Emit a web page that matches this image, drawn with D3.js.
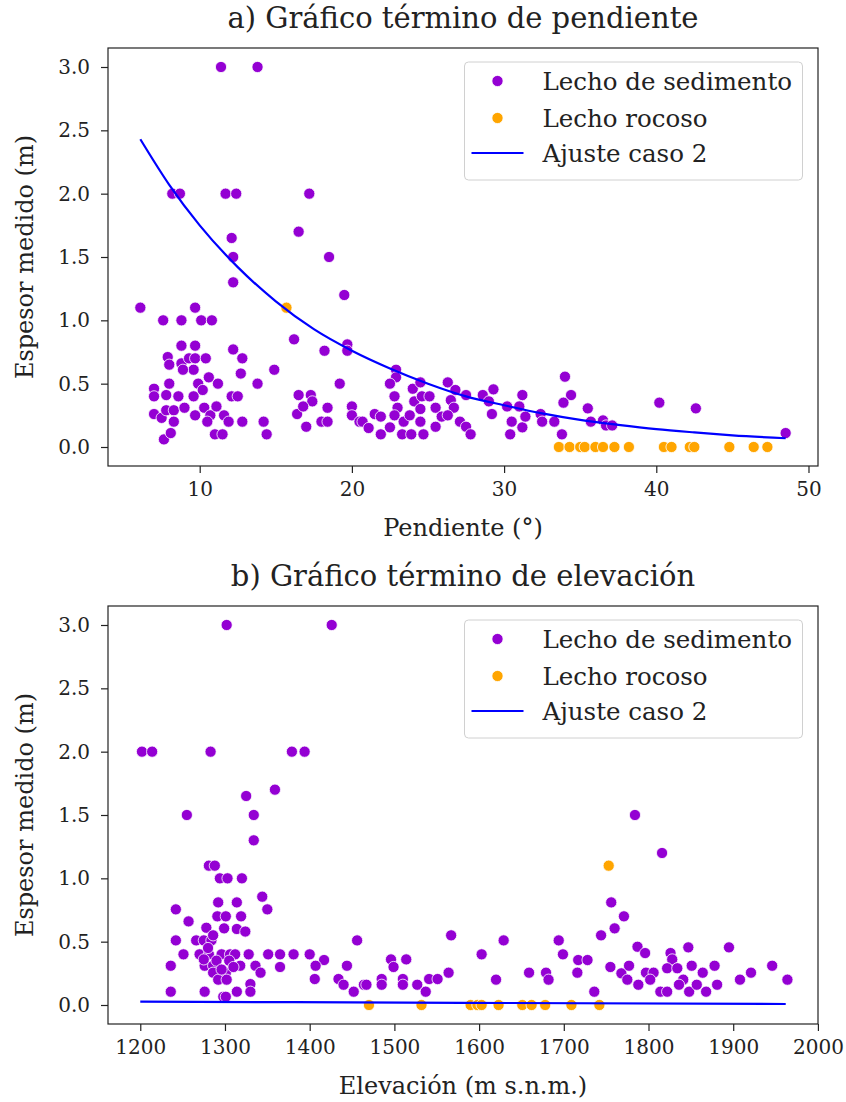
<!DOCTYPE html>
<html><head><meta charset="utf-8">
<script src="https://cdn.jsdelivr.net/npm/d3@7"></script>
<style>
html,body{margin:0;padding:0;background:#fff;}
svg text{font-family:"DejaVu Serif",serif;fill:#222;}
</style></head>
<body>
<svg id="chart" width="846" height="1102"></svg>
<script>
// ---------- DATA ----------
const yTicks = [0.0, 0.5, 1.0, 1.5, 2.0, 2.5, 3.0];
const xTicksA = [10, 20, 30, 40, 50];
const xTicksB = [1200, 1300, 1400, 1500, 1600, 1700, 1800, 1900, 2000];
const legendLabels = ["Lecho de sedimento", "Lecho rocoso", "Ajuste caso 2"];
const titles = ["a) Gráfico término de pendiente", "b) Gráfico término de elevación"];
const xLabels = ["Pendiente (°)", "Elevación (m s.n.m.)"];
const yLabel = "Espesor medido (m)";

// a) slope (deg), thickness (m)
const sedimentA = [
[11.4,3.0],[13.8,3.0],
[8.2,2.0],[8.7,2.0],[11.7,2.0],[12.4,2.0],[17.2,2.0],
[16.5,1.70],[12.1,1.65],[12.2,1.50],[18.5,1.50],
[12.2,1.30],[19.5,1.20],[6.1,1.10],
[7.6,1.0],[8.8,1.0],[9.7,1.1],[10.1,1.0],[10.8,1.0],
[16.2,0.85],[18.2,0.76],[19.7,0.81],[19.7,0.76],
[8.8,0.80],[9.7,0.80],[12.2,0.77],[12.8,0.70],
[7.9,0.71],[8.0,0.65],[8.8,0.66],[9.3,0.70],[9.7,0.70],[10.4,0.70],
[9.6,0.61],[8.9,0.61],[12.7,0.58],[14.9,0.61],[10.6,0.55],
[9.9,0.50],[11.2,0.50],[8.0,0.50],[13.8,0.50],[19.2,0.50],
[7.0,0.46],[7.0,0.40],[7.8,0.41],[8.6,0.40],[9.6,0.40],[10.2,0.45],[12.1,0.40],[12.5,0.40],
[16.5,0.41],[17.3,0.41],[17.4,0.36],
[7.0,0.26],[7.5,0.23],[7.8,0.29],[8.3,0.29],[9.0,0.31],[8.3,0.20],[9.7,0.25],[10.3,0.31],[10.7,0.25],[11.1,0.32],[11.6,0.25],[10.5,0.20],[11.9,0.20],[12.8,0.20],[14.2,0.20],
[11.0,0.10],[11.5,0.10],[14.4,0.10],[7.65,0.06],[8.1,0.11],
[16.4,0.26],[17.0,0.16],[16.8,0.32],[18.0,0.20],[18.4,0.20],[18.4,0.31],[20.0,0.32],[20.0,0.25],[20.5,0.20],
[20.7,0.20],[21.1,0.15],[21.5,0.26],[21.9,0.24],[21.9,0.10],[22.5,0.155],[22.9,0.61],[22.9,0.55],[22.5,0.50],[22.8,0.40],[23.0,0.31],[22.8,0.25],[23.3,0.10],[23.9,0.10],[23.4,0.20],[23.8,0.25],[24.0,0.46],[24.5,0.51],[24.1,0.36],[24.6,0.40],[25.1,0.40],[24.5,0.30],[24.5,0.20],[24.7,0.10],[25.5,0.31],[25.5,0.16],[25.9,0.24],[26.3,0.51],[26.8,0.45],[26.5,0.37],[26.7,0.31],[26.3,0.25],[27.1,0.20],[27.5,0.16],[27.8,0.10],[27.5,0.41],[28.6,0.41],[29.0,0.36],[29.3,0.455],[29.2,0.26],[30.2,0.32],[30.5,0.20],[30.4,0.10],[31.2,0.41],[31.0,0.32],[31.2,0.155],[31.4,0.24],[32.4,0.26],[32.5,0.20],[33.3,0.20],[33.8,0.10],[34.0,0.555],[34.4,0.41],[33.9,0.35],
[35.5,0.305],[35.7,0.20],[36.5,0.21],[36.7,0.17],[37.1,0.17],[40.2,0.35],[42.6,0.305],[48.5,0.11]
];
const rockA = [
[15.7,1.10],[33.6,0],[34.3,0],[35.0,0],[35.3,0],[36.0,0],[36.5,0],[37.25,0],[38.2,0],[40.5,0],[41.0,0],[42.2,0],[42.5,0],[44.8,0],[46.4,0],[47.3,0]
];
const fitA = [[6.1,2.43],[8,2.07],[10,1.75],[12.5,1.42],[15,1.15],[17.5,0.93],[20,0.76],[22.5,0.62],[25,0.50],[27.5,0.40],[30,0.33],[32.5,0.265],[35,0.214],[37.5,0.175],[40,0.141],[42.5,0.115],[45,0.092],[48.5,0.069]];

// b) elevation (m a.s.l.), thickness (m)
const sedimentB = [
[1302,3.0],[1426,3.0],[1202,2.0],[1214,2.0],[1283,2.0],[1379,2.0],[1394,2.0],[1359,1.70],[1325,1.65],[1255,1.50],[1334,1.50],[1334,1.30],
[1281,1.10],[1288,1.10],[1294,1.0],[1303,1.0],[1320,1.0],[1344,0.855],[1350,0.755],[1242,0.755],[1292,0.81],[1314,0.81],[1257,0.66],[1291,0.70],[1301,0.70],[1319,0.70],[1278,0.61],[1299,0.605],[1314,0.6],[1324,0.58],[1242,0.51],[1266,0.51],[1275,0.51],[1284,0.51],[1286,0.55],[1251,0.40],[1270,0.40],[1281,0.40],[1296,0.40],[1306,0.40],[1312,0.40],[1328,0.40],[1351,0.40],[1365,0.40],[1381,0.40],[1400,0.40],[1417,0.355],[1236,0.31],[1276,0.31],[1286,0.31],[1318,0.31],[1336,0.31],[1365,0.30],[1407,0.31],[1444,0.31],[1286,0.255],[1301,0.255],[1342,0.255],[1292,0.20],[1302,0.20],[1406,0.205],[1434,0.205],[1330,0.165],[1236,0.105],[1276,0.105],[1314,0.105],[1330,0.105],[1440,0.16],[1452,0.105],[1298,0.065],[1301,0.065],[1456,0.51],[1464,0.16],
[1280,0.45],[1290,0.35],[1296,0.28],[1305,0.35],[1275,0.36],[1310,0.30],
[1467,0.16],[1485,0.205],[1485,0.16],[1496,0.36],[1499,0.30],[1514,0.36],[1510,0.205],[1510,0.16],[1527,0.16],[1537,0.105],[1541,0.205],[1551,0.205],[1564,0.255],[1567,0.55],[1603,0.40],[1620,0.20],[1629,0.51],[1659,0.255],[1679,0.255],[1682,0.20],[1694,0.51],[1699,0.40],[1717,0.355],[1728,0.355],[1716,0.255],[1736,0.105],[1744,0.55],[1756,0.81],[1760,0.605],[1771,0.70],[1755,0.30],[1768,0.25],
[1784,1.50],[1816,1.20],[1777,0.31],[1775,0.20],[1788,0.16],[1787,0.46],[1796,0.41],[1797,0.255],[1806,0.255],[1802,0.20],[1814,0.105],[1822,0.105],[1826,0.41],[1828,0.36],[1822,0.29],[1834,0.29],[1841,0.20],[1847,0.455],[1851,0.31],[1836,0.16],[1848,0.105],[1857,0.16],[1864,0.255],[1868,0.105],[1878,0.31],[1881,0.16],[1895,0.455],[1908,0.20],[1921,0.255],[1946,0.31],[1964,0.20]
];
const rockB = [
[1470,0],[1532,0],[1590,0],[1598,0],[1603,0],[1623,0],[1651,0],[1662,0],[1678,0],[1709,0],[1742,0],[1753,1.10]
];
const fitB = [[1200,0.027],[1580,0.017],[1962,0.008]];

// ---------- DRAW ----------
const svg = d3.select("#chart");
const colors = {sed:"#9400D3", rock:"#FFA500", fit:"#0000FF"};
const left = 108, right = 818;

function panel(cfg){
  const g = svg.append("g");
  const x = d3.scaleLinear().domain(cfg.xDomain).range([left, right]);
  const y = d3.scaleLinear().domain([-0.15, 3.15]).range([cfg.bottom, cfg.top]);

  const drawPts = (data, col) => g.append("g").selectAll("circle").data(data).join("circle")
    .attr("cx", d => x(d[0])).attr("cy", d => y(d[1])).attr("r", 5.6)
    .attr("fill", col).attr("stroke", "#fff").attr("stroke-width", 0.8);
  drawPts(cfg.sed, colors.sed);
  drawPts(cfg.rock, colors.rock);

  g.append("path").datum(cfg.fit)
    .attr("d", d3.line().x(d => x(d[0])).y(d => y(d[1])).curve(d3.curveMonotoneX))
    .attr("fill", "none").attr("stroke", colors.fit).attr("stroke-width", 2.2);

  const xAxis = d3.axisBottom(x).tickValues(cfg.xTicks).tickSize(7).tickPadding(9)
    .tickFormat(d3.format("d"));
  const yAxis = d3.axisLeft(y).tickValues(yTicks).tickSize(7).tickPadding(11)
    .tickFormat(d3.format(".1f"));
  const gx = g.append("g").attr("transform", `translate(0,${cfg.bottom})`).call(xAxis);
  const gy = g.append("g").attr("transform", `translate(${left},0)`).call(yAxis);
  [gx, gy].forEach(a => {
    a.select(".domain").remove();
    a.selectAll(".tick line").attr("stroke", "#222").attr("stroke-width", 1.2);
    a.selectAll(".tick text").attr("font-family", "DejaVu Serif").attr("font-size", 20).attr("fill", "#222");
  });
  g.append("rect").attr("x", left).attr("y", cfg.top).attr("width", right-left).attr("height", cfg.bottom-cfg.top)
    .attr("fill", "none").attr("stroke", "#222").attr("stroke-width", 1.2);

  g.append("text").attr("x", (left+right)/2).attr("y", cfg.top-20).attr("text-anchor","middle")
    .attr("font-size", 29).text(cfg.title);
  g.append("text").attr("x", (left+right)/2).attr("y", cfg.bottom+70).attr("text-anchor","middle")
    .attr("font-size", 24).text(cfg.xLabel);
  g.append("text").attr("transform", `translate(33,${(cfg.top+cfg.bottom)/2}) rotate(-90)`)
    .attr("text-anchor","middle").attr("font-size", 24).text(yLabel);

  const lx = 464.5, ly = cfg.top + 14;
  const lg = g.append("g");
  lg.append("rect").attr("x", lx).attr("y", ly).attr("width", 338).attr("height", 118).attr("rx", 4)
    .attr("fill", "#fff").attr("fill-opacity", 0.8).attr("stroke", "#d0d0d0").attr("stroke-width", 1);
  const rowY = [ly+19, ly+56, ly+91];
  lg.append("circle").attr("cx", lx+33).attr("cy", rowY[0]).attr("r", 5.6).attr("fill", colors.sed).attr("stroke","#fff").attr("stroke-width",0.8);
  lg.append("circle").attr("cx", lx+33).attr("cy", rowY[1]).attr("r", 5.6).attr("fill", colors.rock).attr("stroke","#fff").attr("stroke-width",0.8);
  lg.append("line").attr("x1", lx+7).attr("x2", lx+59).attr("y1", rowY[2]).attr("y2", rowY[2])
    .attr("stroke", colors.fit).attr("stroke-width", 2.2);
  legendLabels.forEach((t,i) => lg.append("text").attr("x", lx+78).attr("y", rowY[i]).attr("dy","0.35em")
    .attr("font-size", 24.5).text(t));
}

panel({xDomain:[3.975, 50.625], xTicks:xTicksA, top:48, bottom:466, sed:sedimentA, rock:rockA, fit:fitA, title:titles[0], xLabel:xLabels[0]});
panel({xDomain:[1161.9, 2000.1], xTicks:xTicksB, top:606, bottom:1024, sed:sedimentB, rock:rockB, fit:fitB, title:titles[1], xLabel:xLabels[1]});
</script>
</body></html>
